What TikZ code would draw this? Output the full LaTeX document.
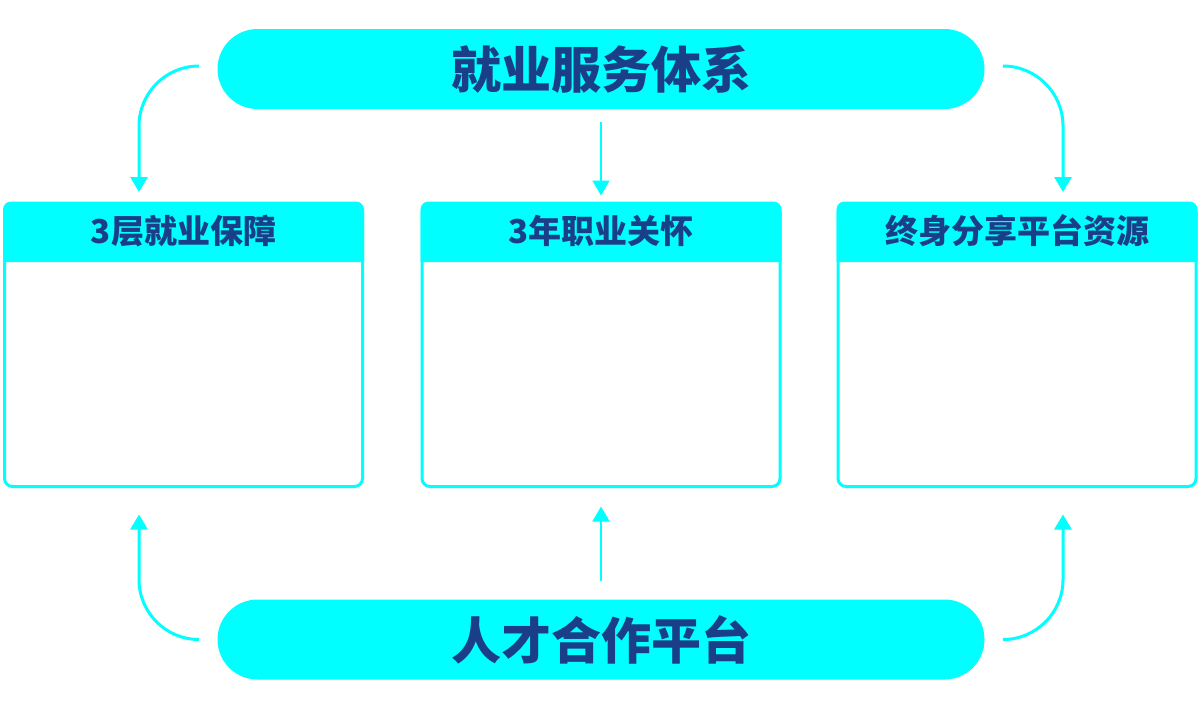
\documentclass[tikz,border=0pt]{standalone}
\usepackage{fontspec}
\newfontfamily\cjk{Noto Sans CJK SC}
\usepackage{tikz}
\usetikzlibrary{arrows.meta}
\definecolor{aqua}{HTML}{00FFFF}
\definecolor{navy}{HTML}{1A3F88}

\begin{document}
\begin{tikzpicture}[x=1pt,y=-1pt,
  pill/.style={fill=aqua, rounded corners=40pt, minimum width=767pt, minimum height=80pt,
    inner sep=0pt, text=navy, font=\cjk\bfseries\fontsize{50pt}{50pt}\selectfont},
  card/.style={draw=aqua, fill=white, line width=3pt, rounded corners=8pt,
    minimum width=358pt, minimum height=282pt, inner sep=0pt},
  headtext/.style={text=navy, inner sep=0pt, font=\cjk\bfseries\fontsize{33pt}{33pt}\selectfont},
  link/.style={draw=aqua, line width=3pt, -{Triangle[width=17pt,length=15pt]}},
  thinlink/.style={draw=aqua, line width=2pt, -{Triangle[width=17pt,length=15pt]}}]

\useasboundingbox (0,0) rectangle (1204,702);

\node[pill] (top) at (601,69) {就业服务体系};
\node[pill] (bot) at (601,639.5) {人才合作平台};

\node[card] (lbox) at (183.5,345.5) {};
\node[card] (mbox) at (601,345.5) {};
\node[card] (rbox) at (1017,345.5) {};

\foreach \b in {lbox,mbox,rbox}
  \fill[aqua] ([yshift=-59pt]\b.north west) [rounded corners=8pt] -- ([yshift=1.5pt]\b.north west)
    -- ([yshift=1.5pt]\b.north east) [sharp corners] -- ([yshift=-59pt]\b.north east) -- cycle;

\node[headtext] (lhead) at ([yshift=-28pt]lbox.north) {3层就业保障};
\node[headtext] (mhead) at ([yshift=-28pt]mbox.north) {3年职业关怀};
\node[headtext] (rhead) at ([yshift=-28pt]rbox.north) {终身分享平台资源};

% arrows
\draw[link, rounded corners=60pt] ([xshift=-19pt,yshift=3pt]top.west) -| ([xshift=-44.5pt,yshift=11pt]lbox.north);
\draw[link, rounded corners=60pt] ([xshift=19pt,yshift=3pt]top.east) -| ([xshift=46pt,yshift=11pt]rbox.north);
\draw[thinlink] ([yshift=-13pt]top.south) -- ([yshift=7.5pt]mbox.north);

\draw[link, rounded corners=60pt] ([xshift=-19pt]bot.west) -| ([xshift=-44.5pt,yshift=-26.5pt]lbox.south);
\draw[link, rounded corners=60pt] ([xshift=19pt]bot.east) -| ([xshift=46pt,yshift=-26.5pt]rbox.south);
\draw[thinlink] ([yshift=18.5pt]bot.north) -- ([yshift=-18.5pt]mbox.south);

\end{tikzpicture}
\end{document}
